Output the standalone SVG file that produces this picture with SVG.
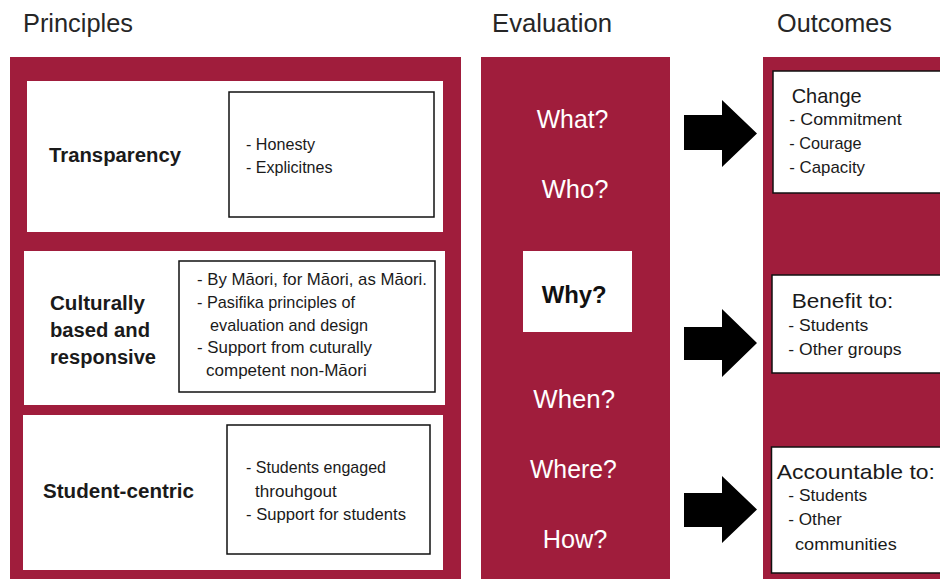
<svg xmlns="http://www.w3.org/2000/svg" width="940" height="579" viewBox="0 0 940 579">
<style>
  text { font-family: "Liberation Sans", Arial, sans-serif; }
  .hdr { font-size: 25.5px; fill: #262626; }
  .lbl { font-size: 20.3px; font-weight: bold; fill: #1a1a1a; }
  .bul { font-size: 16.2px; fill: #1a1a1a; }
  .ev { font-size: 25px; fill: #ffffff; }
  .evb { font-size: 24px; font-weight: bold; fill: #111111; }
  .ot { font-size: 21px; fill: #1a1a1a; }
  .ob { font-size: 17px; fill: #1a1a1a; }
  .panel { fill: #A01D3C; }
  .wbox { fill: #ffffff; }
  .ibox { fill: #ffffff; stroke: #111111; stroke-width: 1.5; }
  .arrow { fill: #000000; }
</style>

<g id="headers">
  <text class="hdr" x="23" y="32" textLength="110" lengthAdjust="spacingAndGlyphs">Principles</text>
  <text class="hdr" x="492" y="31.5" textLength="120" lengthAdjust="spacingAndGlyphs">Evaluation</text>
  <text class="hdr" x="777" y="31.5" textLength="115" lengthAdjust="spacingAndGlyphs">Outcomes</text>
</g>

<g id="principles-panel">
  <rect class="panel" x="10" y="57" width="451" height="522"/>
</g>

<g id="transparency">
  <rect class="wbox" x="27" y="81" width="416" height="151"/>
  <text class="lbl" x="49" y="161.5" textLength="132" lengthAdjust="spacingAndGlyphs">Transparency</text>
  <rect class="ibox" x="229" y="92" width="205" height="125"/>
  <text class="bul" x="246" y="150" textLength="69" lengthAdjust="spacingAndGlyphs">- Honesty</text>
  <text class="bul" x="246" y="172.5" textLength="86.5" lengthAdjust="spacingAndGlyphs">- Explicitnes</text>
</g>

<g id="culturally">
  <rect class="wbox" x="24" y="251" width="421" height="154"/>
  <text class="lbl" x="50" y="309.5" textLength="95" lengthAdjust="spacingAndGlyphs">Culturally</text>
  <text class="lbl" x="50" y="336.5" textLength="100" lengthAdjust="spacingAndGlyphs">based and</text>
  <text class="lbl" x="50" y="363.5" textLength="106" lengthAdjust="spacingAndGlyphs">responsive</text>
  <rect class="ibox" x="179" y="261" width="256" height="131"/>
  <text class="bul" x="197" y="285" textLength="230" lengthAdjust="spacingAndGlyphs">- By Māori, for Māori, as Māori.</text>
  <text class="bul" x="197" y="307.8" textLength="158" lengthAdjust="spacingAndGlyphs">- Pasifika principles of</text>
  <text class="bul" x="210" y="330.6" textLength="158" lengthAdjust="spacingAndGlyphs">evaluation and design</text>
  <text class="bul" x="197" y="353.4" textLength="175" lengthAdjust="spacingAndGlyphs">- Support from cuturally</text>
  <text class="bul" x="206" y="376.2" textLength="160.7" lengthAdjust="spacingAndGlyphs">competent non-Māori</text>
</g>

<g id="student-centric">
  <rect class="wbox" x="23" y="415" width="420" height="155"/>
  <text class="lbl" x="43" y="498" textLength="151" lengthAdjust="spacingAndGlyphs">Student-centric</text>
  <rect class="ibox" x="227" y="425" width="203" height="129"/>
  <text class="bul" x="246" y="473.3" textLength="140" lengthAdjust="spacingAndGlyphs">- Students engaged</text>
  <text class="bul" x="255" y="496.7" textLength="81.7" lengthAdjust="spacingAndGlyphs">throuhgout</text>
  <text class="bul" x="246" y="520" textLength="160" lengthAdjust="spacingAndGlyphs">- Support for students</text>
</g>

<g id="evaluation">
  <rect class="panel" x="481" y="57" width="189" height="522"/>
  <text class="ev" x="536.7" y="127.7" textLength="71.7" lengthAdjust="spacingAndGlyphs">What?</text>
  <text class="ev" x="541.7" y="198.3" textLength="66.7" lengthAdjust="spacingAndGlyphs">Who?</text>
  <g id="why">
    <rect class="wbox" x="523" y="251" width="109" height="81"/>
    <text class="evb" x="541.7" y="303" textLength="65" lengthAdjust="spacingAndGlyphs">Why?</text>
  </g>
  <text class="ev" x="533.3" y="408.3" textLength="81.7" lengthAdjust="spacingAndGlyphs">When?</text>
  <text class="ev" x="530" y="478.3" textLength="86.7" lengthAdjust="spacingAndGlyphs">Where?</text>
  <text class="ev" x="542.7" y="548.3" textLength="64.6" lengthAdjust="spacingAndGlyphs">How?</text>
</g>

<g id="outcomes-panel">
  <rect class="panel" x="763" y="57" width="177" height="522"/>
</g>

<g id="change">
  <rect class="ibox" x="773" y="71" width="170" height="122"/>
  <text class="ot" x="791.7" y="102.5" textLength="70" lengthAdjust="spacingAndGlyphs">Change</text>
  <text class="ob" x="789.3" y="125" textLength="112.4" lengthAdjust="spacingAndGlyphs">- Commitment</text>
  <text class="ob" x="789.3" y="149" textLength="72.3" lengthAdjust="spacingAndGlyphs">- Courage</text>
  <text class="ob" x="789.3" y="173" textLength="75.7" lengthAdjust="spacingAndGlyphs">- Capacity</text>
</g>

<g id="benefit">
  <rect class="ibox" x="772" y="275" width="171" height="98"/>
  <text class="ot" x="791.7" y="308" textLength="101.6" lengthAdjust="spacingAndGlyphs">Benefit to:</text>
  <text class="ob" x="788.3" y="331" textLength="80" lengthAdjust="spacingAndGlyphs">- Students</text>
  <text class="ob" x="788.3" y="355" textLength="113.3" lengthAdjust="spacingAndGlyphs">- Other groups</text>
</g>

<g id="accountable">
  <rect class="ibox" x="771.5" y="447" width="171" height="126"/>
  <text class="ot" x="776.7" y="478.5" textLength="158.3" lengthAdjust="spacingAndGlyphs">Accountable to:</text>
  <text class="ob" x="788.3" y="501" textLength="79" lengthAdjust="spacingAndGlyphs">- Students</text>
  <text class="ob" x="788.3" y="525" textLength="53.4" lengthAdjust="spacingAndGlyphs">- Other</text>
  <text class="ob" x="795" y="549.5" textLength="101.7" lengthAdjust="spacingAndGlyphs">communities</text>
</g>

<g id="connectors">
  <polygon class="arrow" points="684,115 722,115 722,100 757,133.5 722,167 722,150 684,150"/>
  <polygon class="arrow" points="684,327 722,327 722,309 757,343 722,377 722,360 684,360"/>
  <polygon class="arrow" points="684,493 722,493 722,476 757,509.5 722,543 722,527 684,527"/>
</g>
</svg>
